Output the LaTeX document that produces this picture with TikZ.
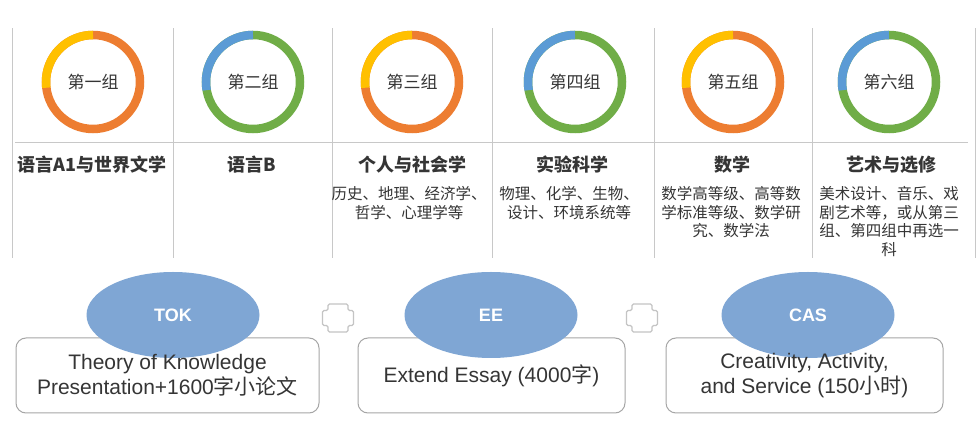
\documentclass[tikz,border=0pt]{standalone}
\usepackage{fontspec}
\setmainfont{Liberation Sans}
\newfontfamily\cjk{Noto Sans CJK SC}
\usetikzlibrary{shapes.geometric}
\definecolor{ringorange}{HTML}{ED7D31}
\definecolor{ringyellow}{HTML}{FFC000}
\definecolor{ringblue}{HTML}{5B9BD5}
\definecolor{ringgreen}{HTML}{70AD47}
\definecolor{ellblue}{HTML}{7FA6D4}
\definecolor{gridgray}{HTML}{C8C8C8}
\definecolor{boxgray}{HTML}{A6A6A6}
\definecolor{txtdark}{HTML}{353535}
\definecolor{plusgray}{HTML}{C4C4C4}
\tikzset{
  gridline/.style={draw=gridgray, line width=1pt},
  ring/.style={line width=8.5pt},
  grouplabel/.style={inner sep=0pt, text=txtdark, font=\cjk\fontsize{17}{20}\selectfont},
  grouptitle/.style={inner sep=0pt, text=txtdark, font=\cjk\bfseries\fontsize{18}{22}\selectfont},
  groupsub/.style={inner sep=0pt, align=center, text=txtdark, font=\cjk\fontsize{15.5}{18.5}\selectfont},
  infobox/.style={draw=boxgray, line width=1pt, rounded corners=10pt, fill=white,
    inner sep=0pt, minimum height=75pt},
  infotext/.style={align=center, inner sep=0pt, text=txtdark, font=\fontsize{21}{25}\selectfont},
  ellnode/.style={ellipse, fill=ellblue, inner sep=0pt, minimum width=173pt, minimum height=86pt,
    text=white, font=\bfseries\fontsize{18}{22}\selectfont},
  plusshape/.style={draw=plusgray, line width=1.1pt, fill=white, rounded corners=1.5pt}
}
\begin{document}
\begin{tikzpicture}[x=1pt,y=1pt]
\useasboundingbox (0,0) rectangle (980,436);
\fill[white] (0,0) rectangle (980,436);

% grid
\foreach \gx in {12,173,332,492,654,812,975} \draw[gridline] (\gx,178) -- (\gx,408);
\draw[gridline] (15,293) -- (968,293);

% rings
\node[grouplabel] (g1) at (93,354) {第一组};
\draw[ring, ringorange] (g1.center) circle[radius=47];
\draw[ring, ringyellow] (g1.center) ++(90:47) arc[start angle=90, end angle=187, radius=47];

\node[grouplabel] (g2) at (253,354) {第二组};
\draw[ring, ringgreen] (g2.center) circle[radius=47];
\draw[ring, ringblue] (g2.center) ++(90:47) arc[start angle=90, end angle=190, radius=47];

\node[grouplabel] (g3) at (412,354) {第三组};
\draw[ring, ringorange] (g3.center) circle[radius=47];
\draw[ring, ringyellow] (g3.center) ++(90:47) arc[start angle=90, end angle=187, radius=47];

\node[grouplabel] (g4) at (575,354) {第四组};
\draw[ring, ringgreen] (g4.center) circle[radius=47];
\draw[ring, ringblue] (g4.center) ++(90:47) arc[start angle=90, end angle=190, radius=47];

\node[grouplabel] (g5) at (733,354) {第五组};
\draw[ring, ringorange] (g5.center) circle[radius=47];
\draw[ring, ringyellow] (g5.center) ++(90:47) arc[start angle=90, end angle=187, radius=47];

\node[grouplabel] (g6) at (889,354) {第六组};
\draw[ring, ringgreen] (g6.center) circle[radius=47];
\draw[ring, ringblue] (g6.center) ++(90:47) arc[start angle=90, end angle=190, radius=47];

% titles
\node[grouptitle] (t1) at (92,271) {语言A1与世界文学};
\node[grouptitle] (t2) at (252,271) {语言B};
\node[grouptitle] (t3) at (412,271) {个人与社会学};
\node[grouptitle] (t4) at (572,271) {实验科学};
\node[grouptitle] (t5) at (732,271) {数学};
\node[grouptitle] (t6) at (891,271) {艺术与选修};

% subtitles
\node[groupsub] (s3) at (409,232.75) {历史、地理、经济学、\\哲学、心理学等};
\node[groupsub] (s4) at (569,232.75) {物理、化学、生物、\\设计、环境系统等};
\node[groupsub] (s5) at (731,223.5) {数学高等级、高等数\\学标准等级、数学研\\究、数学法};
\node[groupsub] (s6) at (889,214.25) {美术设计、音乐、戏\\剧艺术等，或从第三\\组、第四组中再选一\\科};

% bottom boxes
\node[infobox, minimum width=303pt] (tokbox) at (167.5,60.5) {};
\node[infobox, minimum width=267pt] (eebox) at (491.5,60.5) {};
\node[infobox, minimum width=277pt] (casbox) at (804.5,60.5) {};

\node[ellnode] (tok) at (173,121) {TOK};
\node[ellnode] (ee) at (491,121) {EE};
\node[ellnode] (cas) at (808,121) {CAS};

\node[infotext] (toktext) at (tokbox.center) {Theory of Knowledge\\Presentation+1600{\cjk 字小论文}};
\node[infotext] (eetext) at (eebox.center) {Extend Essay (4000{\cjk 字})};
\node[infotext] (castext) at (casbox.center) {Creativity, Activity,\\and Service (150{\cjk 小时})};

% plus signs
\draw[plusshape] (338,118) +(-10,14) -- +(10,14) -- +(10,7.5) -- +(15.5,7.5) -- +(15.5,-7.5)
  -- +(10,-7.5) -- +(10,-14) -- +(-10,-14) -- +(-10,-7.5) -- +(-15.5,-7.5) -- +(-15.5,7.5)
  -- +(-10,7.5) -- cycle;
\draw[plusshape] (642,118) +(-10,14) -- +(10,14) -- +(10,7.5) -- +(15.5,7.5) -- +(15.5,-7.5)
  -- +(10,-7.5) -- +(10,-14) -- +(-10,-14) -- +(-10,-7.5) -- +(-15.5,-7.5) -- +(-15.5,7.5)
  -- +(-10,7.5) -- cycle;
\end{tikzpicture}
\end{document}
